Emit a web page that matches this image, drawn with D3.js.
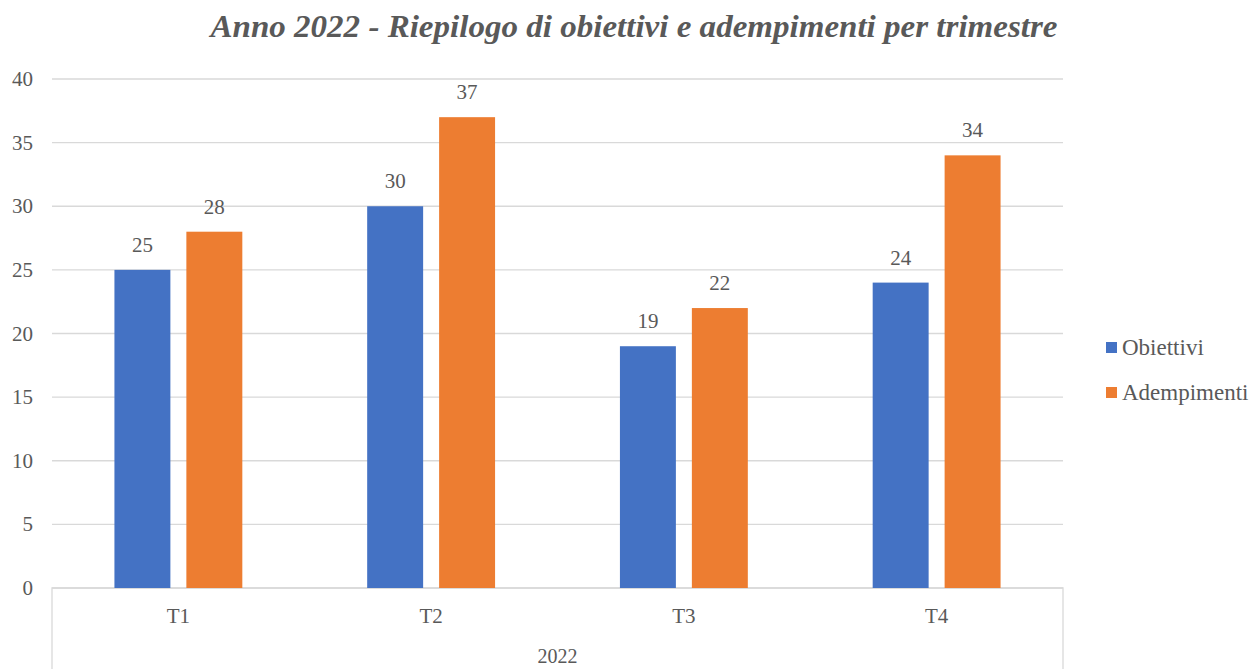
<!DOCTYPE html>
<html>
<head>
<meta charset="utf-8">
<script src="https://cdn.jsdelivr.net/npm/d3@7"></script>
<style>
body { margin: 0; background: #fff; }
text { font-family: "Liberation Serif", "DejaVu Serif", serif; fill: #595959; }
</style>
</head>
<body>
<svg id="chart" width="1253" height="669"></svg>
<script>
var quarters = ["T1", "T2", "T3", "T4"];
var seriesNames = ["Obiettivi", "Adempimenti"];
var obiettivi = [25, 30, 19, 24];
var adempimenti = [28, 37, 22, 34];
var yTicks = [0, 5, 10, 15, 20, 25, 30, 35, 40];
var yearLabel = "2022";
var colors = ["#4472C4", "#ED7D31"];

var svg = d3.select("#chart");
var plotLeft = 52, plotRight = 1063, plotTop = 79, plotBottom = 588;

var x0 = d3.scaleBand().domain(quarters).range([plotLeft, plotRight])
    .paddingInner(0.494).paddingOuter(0.247);
var x1 = d3.scaleBand().domain(seriesNames).range([0, x0.bandwidth()])
    .paddingInner(0.2222);
var y = d3.scaleLinear().domain([0, 40]).range([plotBottom, plotTop]);

// gridlines
svg.append("g").selectAll("line").data(yTicks).enter().append("line")
    .attr("x1", plotLeft).attr("x2", plotRight)
    .attr("y1", function(d) { return y(d); })
    .attr("y2", function(d) { return y(d); })
    .style("stroke", "#d9d9d9").style("stroke-width", 1.3);

// y labels
svg.append("g").selectAll("text").data(yTicks).enter().append("text")
    .attr("x", 33).attr("y", function(d) { return y(d) + 7; })
    .attr("text-anchor", "end").style("font-size", "21px")
    .text(function(d) { return d; });

// multi-level axis box
svg.append("path")
    .attr("d", "M" + plotLeft + ",669V" + plotBottom + "H" + plotRight + "V669")
    .style("fill", "none").style("stroke", "#d9d9d9").style("stroke-width", 1.3);

var rows = quarters.map(function(q, i) {
    return {q: q, vals: [obiettivi[i], adempimenti[i]]};
});

var groups = svg.append("g").selectAll("g").data(rows).enter().append("g")
    .attr("transform", function(d) { return "translate(" + x0(d.q) + ",0)"; });

groups.selectAll("rect").data(function(d) {
        return d.vals.map(function(v, i) { return {s: seriesNames[i], v: v, i: i}; });
    }).enter().append("rect")
    .attr("x", function(d) { return x1(d.s); })
    .attr("y", function(d) { return y(d.v); })
    .attr("width", x1.bandwidth())
    .attr("height", function(d) { return plotBottom - y(d.v); })
    .style("fill", function(d) { return colors[d.i]; });

groups.selectAll("text.lab").data(function(d) {
        return d.vals.map(function(v, i) { return {s: seriesNames[i], v: v}; });
    }).enter().append("text")
    .attr("class", "lab")
    .attr("x", function(d) { return x1(d.s) + x1.bandwidth() / 2; })
    .attr("y", function(d) { return y(d.v) - 18; })
    .attr("text-anchor", "middle").style("font-size", "21px")
    .text(function(d) { return d.v; });

// category labels
svg.append("g").selectAll("text").data(quarters).enter().append("text")
    .attr("x", function(d) { return x0(d) + x0.bandwidth() / 2; })
    .attr("y", 623).attr("text-anchor", "middle").style("font-size", "21px")
    .text(function(d) { return d; });

svg.append("text").attr("x", (plotLeft + plotRight) / 2).attr("y", 663)
    .attr("text-anchor", "middle").style("font-size", "20px").text(yearLabel);

// title
svg.append("text").attr("x", 634).attr("y", 37)
    .attr("text-anchor", "middle")
    .attr("textLength", 847).attr("lengthAdjust", "spacingAndGlyphs")
    .style("font-size", "31px").style("font-style", "italic").style("font-weight", "bold")
    .text("Anno 2022 - Riepilogo di obiettivi e adempimenti per trimestre");

// legend
var legend = svg.append("g").selectAll("g").data(seriesNames).enter().append("g")
    .attr("transform", function(d, i) { return "translate(1106," + (342 + i * 45) + ")"; });
legend.append("rect").attr("width", 11).attr("height", 11)
    .style("fill", function(d, i) { return colors[i]; });
legend.append("text").attr("x", 16).attr("y", 13).style("font-size", "23px")
    .text(function(d) { return d; });
</script>
</body>
</html>
